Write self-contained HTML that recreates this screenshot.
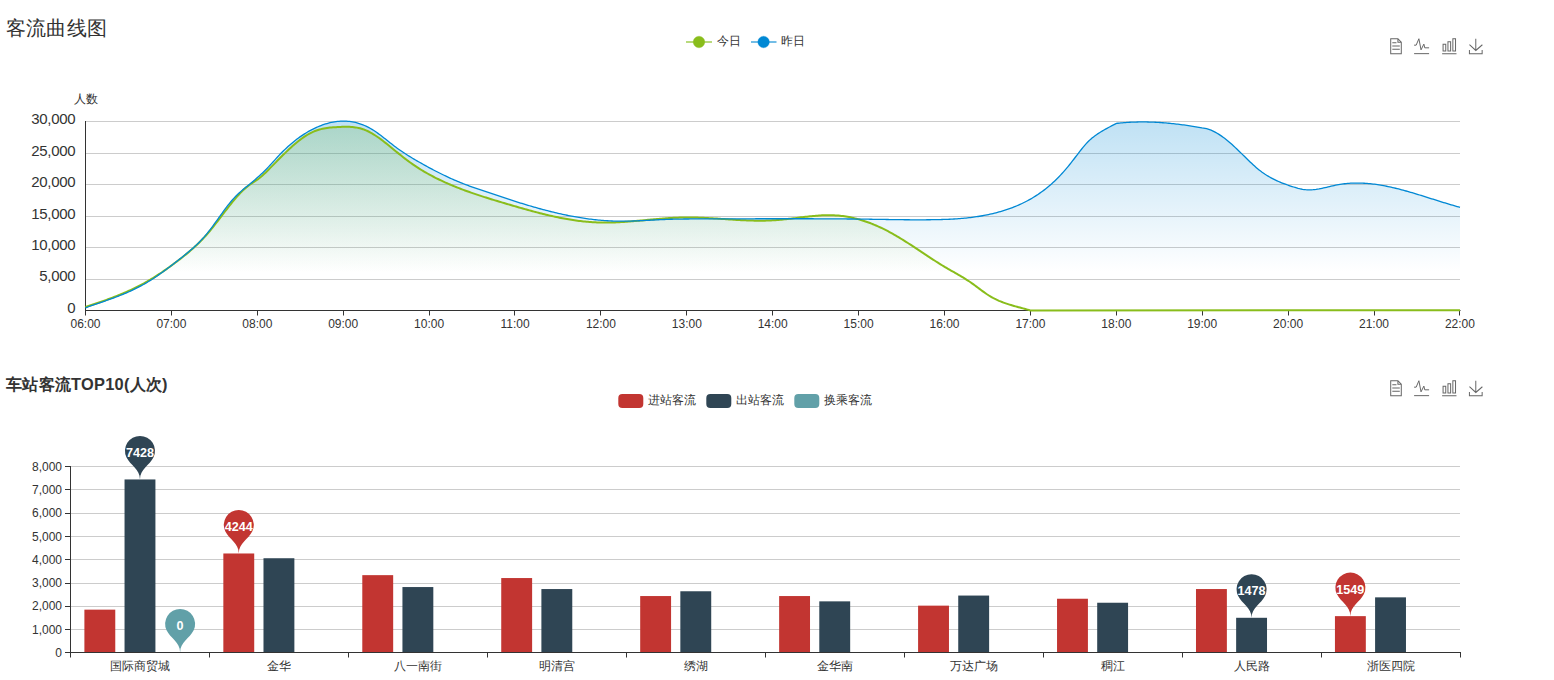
<!DOCTYPE html>
<html><head><meta charset="utf-8"><style>
html,body{margin:0;padding:0;background:#fff;width:1554px;height:680px;overflow:hidden}
svg{display:block;font-family:"Liberation Sans",sans-serif}
</style></head><body>
<svg width="1554" height="680" viewBox="0 0 1554 680">
<text x="5.6" y="35" font-size="20" letter-spacing="0.45" fill="#333">客流曲线图</text>
<line x1="686" y1="42" x2="712" y2="42" stroke="#b9da7d" stroke-width="2"/>
<circle cx="699" cy="42" r="5.8" fill="rgb(137,189,27)" stroke="rgba(137,189,27,0.3)" stroke-width="1"/>
<text x="716.8" y="44.6" font-size="12" fill="#333">今日</text>
<line x1="751" y1="42" x2="776.5" y2="42" stroke="#73bde6" stroke-width="2"/>
<circle cx="763.6" cy="42" r="5.8" fill="rgb(0,136,212)" stroke="rgba(0,136,212,0.3)" stroke-width="1"/>
<text x="781" y="44.6" font-size="12" fill="#333">昨日</text>
<line x1="85.5" y1="279.5" x2="1460" y2="279.5" stroke="#ccc" stroke-width="1"/>
<line x1="85.5" y1="247.5" x2="1460" y2="247.5" stroke="#ccc" stroke-width="1"/>
<line x1="85.5" y1="216.5" x2="1460" y2="216.5" stroke="#ccc" stroke-width="1"/>
<line x1="85.5" y1="184.5" x2="1460" y2="184.5" stroke="#ccc" stroke-width="1"/>
<line x1="85.5" y1="153.5" x2="1460" y2="153.5" stroke="#ccc" stroke-width="1"/>
<line x1="85.5" y1="121.5" x2="1460" y2="121.5" stroke="#ccc" stroke-width="1"/>
<text x="75.3" y="312.8" font-size="15" letter-spacing="-0.3" fill="#333" text-anchor="end">0</text>
<text x="75.3" y="281.4" font-size="15" letter-spacing="-0.3" fill="#333" text-anchor="end">5,000</text>
<text x="75.3" y="249.9" font-size="15" letter-spacing="-0.3" fill="#333" text-anchor="end">10,000</text>
<text x="75.3" y="218.5" font-size="15" letter-spacing="-0.3" fill="#333" text-anchor="end">15,000</text>
<text x="75.3" y="187.1" font-size="15" letter-spacing="-0.3" fill="#333" text-anchor="end">20,000</text>
<text x="75.3" y="155.6" font-size="15" letter-spacing="-0.3" fill="#333" text-anchor="end">25,000</text>
<text x="75.3" y="124.2" font-size="15" letter-spacing="-0.3" fill="#333" text-anchor="end">30,000</text>
<text x="85.5" y="103" font-size="12" fill="#333" text-anchor="middle">人数</text>
<defs><linearGradient id="gb" gradientUnits="userSpaceOnUse" x1="0" y1="121.1" x2="0" y2="310.0"><stop offset="0" stop-color="rgb(0,136,212)" stop-opacity="0.25"/><stop offset="0.8" stop-color="rgb(0,136,212)" stop-opacity="0"/></linearGradient><linearGradient id="gg" gradientUnits="userSpaceOnUse" x1="0" y1="126.8" x2="0" y2="310.0"><stop offset="0" stop-color="rgb(137,189,27)" stop-opacity="0.25"/><stop offset="0.8" stop-color="rgb(137,189,27)" stop-opacity="0"/></linearGradient></defs>
<path d="M85.50,307.04 L87.00,306.54 L88.50,306.04 L90.00,305.54 L91.50,305.03 L93.00,304.52 L94.50,304.01 L96.00,303.50 L97.50,302.99 L99.00,302.47 L100.50,301.95 L102.00,301.43 L103.50,300.90 L105.00,300.36 L106.50,299.82 L108.00,299.27 L109.50,298.72 L111.00,298.16 L112.50,297.59 L114.00,297.02 L115.50,296.44 L117.00,295.85 L118.50,295.25 L120.00,294.64 L121.50,294.02 L123.00,293.39 L124.50,292.75 L126.00,292.10 L127.50,291.44 L129.00,290.77 L130.50,290.08 L132.00,289.38 L133.50,288.67 L135.00,287.95 L136.50,287.21 L138.00,286.45 L139.50,285.69 L141.00,284.90 L142.50,284.10 L144.00,283.29 L145.50,282.46 L147.00,281.61 L148.50,280.74 L150.00,279.86 L151.50,278.96 L153.00,278.04 L154.50,277.11 L156.00,276.16 L157.50,275.19 L159.00,274.21 L160.50,273.22 L162.00,272.21 L163.50,271.19 L165.00,270.15 L166.50,269.10 L168.00,268.04 L169.50,266.96 L171.00,265.87 L172.50,264.77 L174.00,263.66 L175.50,262.54 L177.00,261.41 L178.50,260.26 L180.00,259.11 L181.50,257.94 L183.00,256.76 L184.50,255.57 L186.00,254.36 L187.50,253.13 L189.00,251.87 L190.50,250.59 L192.00,249.29 L193.50,247.96 L195.00,246.59 L196.50,245.19 L198.00,243.76 L199.50,242.29 L201.00,240.78 L202.50,239.22 L204.00,237.63 L205.50,235.98 L207.00,234.29 L208.50,232.55 L210.00,230.76 L211.50,228.93 L213.00,227.06 L214.50,225.16 L216.00,223.24 L217.50,221.30 L219.00,219.34 L220.50,217.38 L222.00,215.41 L223.50,213.44 L225.00,211.48 L226.50,209.53 L228.00,207.59 L229.50,205.68 L231.00,203.80 L232.50,201.95 L234.00,200.14 L235.50,198.37 L237.00,196.65 L238.50,194.98 L240.00,193.38 L241.50,191.83 L243.00,190.36 L244.50,188.96 L246.00,187.65 L247.50,186.42 L249.00,185.27 L250.50,184.20 L252.00,183.18 L253.50,182.18 L255.00,181.19 L256.50,180.17 L258.00,179.11 L259.50,177.98 L261.00,176.77 L262.50,175.47 L264.00,174.09 L265.50,172.66 L267.00,171.19 L268.50,169.69 L270.00,168.17 L271.50,166.65 L273.00,165.13 L274.50,163.60 L276.00,162.08 L277.50,160.56 L279.00,159.04 L280.50,157.53 L282.00,156.04 L283.50,154.56 L285.00,153.09 L286.50,151.64 L288.00,150.22 L289.50,148.82 L291.00,147.44 L292.50,146.09 L294.00,144.78 L295.50,143.49 L297.00,142.25 L298.50,141.04 L300.00,139.87 L301.50,138.75 L303.00,137.68 L304.50,136.65 L306.00,135.67 L307.50,134.75 L309.00,133.89 L310.50,133.08 L312.00,132.34 L313.50,131.65 L315.00,131.04 L316.50,130.48 L318.00,129.98 L319.50,129.54 L321.00,129.14 L322.50,128.79 L324.00,128.49 L325.50,128.22 L327.00,127.99 L328.50,127.79 L330.00,127.61 L331.50,127.47 L333.00,127.34 L334.50,127.24 L336.00,127.14 L337.50,127.06 L339.00,126.99 L340.50,126.92 L342.00,126.86 L343.50,126.81 L345.00,126.78 L346.50,126.78 L348.00,126.79 L349.50,126.84 L351.00,126.92 L352.50,127.03 L354.00,127.19 L355.50,127.39 L357.00,127.63 L358.50,127.93 L360.00,128.29 L361.50,128.70 L363.00,129.18 L364.50,129.72 L366.00,130.34 L367.50,131.01 L369.00,131.75 L370.50,132.54 L372.00,133.39 L373.50,134.28 L375.00,135.22 L376.50,136.21 L378.00,137.24 L379.50,138.30 L381.00,139.39 L382.50,140.52 L384.00,141.67 L385.50,142.84 L387.00,144.03 L388.50,145.24 L390.00,146.46 L391.50,147.69 L393.00,148.92 L394.50,150.16 L396.00,151.40 L397.50,152.63 L399.00,153.86 L400.50,155.07 L402.00,156.28 L403.50,157.46 L405.00,158.63 L406.50,159.77 L408.00,160.89 L409.50,161.99 L411.00,163.06 L412.50,164.11 L414.00,165.14 L415.50,166.15 L417.00,167.14 L418.50,168.10 L420.00,169.05 L421.50,169.98 L423.00,170.89 L424.50,171.78 L426.00,172.65 L427.50,173.50 L429.00,174.34 L430.50,175.16 L432.00,175.96 L433.50,176.75 L435.00,177.52 L436.50,178.28 L438.00,179.02 L439.50,179.75 L441.00,180.47 L442.50,181.17 L444.00,181.86 L445.50,182.54 L447.00,183.20 L448.50,183.86 L450.00,184.50 L451.50,185.14 L453.00,185.76 L454.50,186.38 L456.00,186.98 L457.50,187.58 L459.00,188.17 L460.50,188.75 L462.00,189.32 L463.50,189.88 L465.00,190.44 L466.50,190.99 L468.00,191.53 L469.50,192.06 L471.00,192.59 L472.50,193.11 L474.00,193.63 L475.50,194.14 L477.00,194.64 L478.50,195.14 L480.00,195.64 L481.50,196.12 L483.00,196.61 L484.50,197.09 L486.00,197.56 L487.50,198.04 L489.00,198.50 L490.50,198.97 L492.00,199.43 L493.50,199.89 L495.00,200.35 L496.50,200.80 L498.00,201.25 L499.50,201.70 L501.00,202.15 L502.50,202.60 L504.00,203.04 L505.50,203.49 L507.00,203.93 L508.50,204.38 L510.00,204.82 L511.50,205.26 L513.00,205.70 L514.50,206.14 L516.00,206.58 L517.50,207.01 L519.00,207.44 L520.50,207.88 L522.00,208.30 L523.50,208.73 L525.00,209.15 L526.50,209.57 L528.00,209.99 L529.50,210.40 L531.00,210.81 L532.50,211.21 L534.00,211.61 L535.50,212.01 L537.00,212.40 L538.50,212.79 L540.00,213.18 L541.50,213.56 L543.00,213.93 L544.50,214.30 L546.00,214.66 L547.50,215.02 L549.00,215.37 L550.50,215.71 L552.00,216.05 L553.50,216.39 L555.00,216.71 L556.50,217.03 L558.00,217.35 L559.50,217.65 L561.00,217.95 L562.50,218.24 L564.00,218.52 L565.50,218.80 L567.00,219.07 L568.50,219.33 L570.00,219.58 L571.50,219.82 L573.00,220.05 L574.50,220.28 L576.00,220.49 L577.50,220.70 L579.00,220.89 L580.50,221.08 L582.00,221.26 L583.50,221.42 L585.00,221.58 L586.50,221.73 L588.00,221.86 L589.50,221.99 L591.00,222.10 L592.50,222.20 L594.00,222.29 L595.50,222.37 L597.00,222.44 L598.50,222.49 L600.00,222.54 L601.50,222.57 L603.00,222.59 L604.50,222.60 L606.00,222.60 L607.50,222.59 L609.00,222.57 L610.50,222.54 L612.00,222.50 L613.50,222.46 L615.00,222.40 L616.50,222.34 L618.00,222.27 L619.50,222.19 L621.00,222.11 L622.50,222.02 L624.00,221.92 L625.50,221.82 L627.00,221.71 L628.50,221.60 L630.00,221.48 L631.50,221.36 L633.00,221.24 L634.50,221.11 L636.00,220.98 L637.50,220.85 L639.00,220.71 L640.50,220.57 L642.00,220.44 L643.50,220.30 L645.00,220.16 L646.50,220.02 L648.00,219.87 L649.50,219.73 L651.00,219.59 L652.50,219.46 L654.00,219.32 L655.50,219.18 L657.00,219.05 L658.50,218.92 L660.00,218.80 L661.50,218.67 L663.00,218.55 L664.50,218.44 L666.00,218.33 L667.50,218.22 L669.00,218.12 L670.50,218.02 L672.00,217.94 L673.50,217.85 L675.00,217.78 L676.50,217.71 L678.00,217.65 L679.50,217.59 L681.00,217.55 L682.50,217.51 L684.00,217.49 L685.50,217.47 L687.00,217.46 L688.50,217.46 L690.00,217.47 L691.50,217.48 L693.00,217.51 L694.50,217.54 L696.00,217.57 L697.50,217.62 L699.00,217.67 L700.50,217.72 L702.00,217.79 L703.50,217.85 L705.00,217.92 L706.50,218.00 L708.00,218.08 L709.50,218.16 L711.00,218.25 L712.50,218.34 L714.00,218.43 L715.50,218.52 L717.00,218.62 L718.50,218.72 L720.00,218.82 L721.50,218.92 L723.00,219.02 L724.50,219.12 L726.00,219.22 L727.50,219.32 L729.00,219.42 L730.50,219.52 L732.00,219.61 L733.50,219.71 L735.00,219.80 L736.50,219.89 L738.00,219.98 L739.50,220.06 L741.00,220.14 L742.50,220.22 L744.00,220.29 L745.50,220.36 L747.00,220.42 L748.50,220.48 L750.00,220.53 L751.50,220.57 L753.00,220.61 L754.50,220.64 L756.00,220.67 L757.50,220.68 L759.00,220.69 L760.50,220.69 L762.00,220.69 L763.50,220.67 L765.00,220.65 L766.50,220.61 L768.00,220.57 L769.50,220.51 L771.00,220.45 L772.50,220.37 L774.00,220.28 L775.50,220.18 L777.00,220.07 L778.50,219.95 L780.00,219.81 L781.50,219.67 L783.00,219.52 L784.50,219.37 L786.00,219.20 L787.50,219.03 L789.00,218.85 L790.50,218.68 L792.00,218.49 L793.50,218.31 L795.00,218.12 L796.50,217.93 L798.00,217.74 L799.50,217.55 L801.00,217.36 L802.50,217.18 L804.00,217.00 L805.50,216.82 L807.00,216.65 L808.50,216.48 L810.00,216.32 L811.50,216.17 L813.00,216.02 L814.50,215.89 L816.00,215.76 L817.50,215.64 L819.00,215.54 L820.50,215.45 L822.00,215.37 L823.50,215.30 L825.00,215.25 L826.50,215.22 L828.00,215.20 L829.50,215.20 L831.00,215.21 L832.50,215.25 L834.00,215.30 L835.50,215.38 L837.00,215.48 L838.50,215.60 L840.00,215.74 L841.50,215.90 L843.00,216.09 L844.50,216.30 L846.00,216.53 L847.50,216.78 L849.00,217.05 L850.50,217.34 L852.00,217.66 L853.50,218.00 L855.00,218.36 L856.50,218.73 L858.00,219.13 L859.50,219.55 L861.00,219.99 L862.50,220.45 L864.00,220.93 L865.50,221.43 L867.00,221.95 L868.50,222.49 L870.00,223.05 L871.50,223.63 L873.00,224.23 L874.50,224.84 L876.00,225.48 L877.50,226.13 L879.00,226.81 L880.50,227.50 L882.00,228.21 L883.50,228.93 L885.00,229.68 L886.50,230.44 L888.00,231.22 L889.50,232.02 L891.00,232.84 L892.50,233.67 L894.00,234.52 L895.50,235.39 L897.00,236.27 L898.50,237.16 L900.00,238.07 L901.50,238.98 L903.00,239.92 L904.50,240.86 L906.00,241.81 L907.50,242.76 L909.00,243.73 L910.50,244.70 L912.00,245.68 L913.50,246.67 L915.00,247.66 L916.50,248.65 L918.00,249.65 L919.50,250.64 L921.00,251.64 L922.50,252.64 L924.00,253.64 L925.50,254.63 L927.00,255.63 L928.50,256.62 L930.00,257.60 L931.50,258.58 L933.00,259.56 L934.50,260.52 L936.00,261.48 L937.50,262.44 L939.00,263.38 L940.50,264.31 L942.00,265.23 L943.50,266.14 L945.00,267.03 L946.50,267.92 L948.00,268.79 L949.50,269.65 L951.00,270.51 L952.50,271.36 L954.00,272.21 L955.50,273.07 L957.00,273.93 L958.50,274.79 L960.00,275.67 L961.50,276.56 L963.00,277.46 L964.50,278.38 L966.00,279.32 L967.50,280.29 L969.00,281.27 L970.50,282.29 L972.00,283.34 L973.50,284.41 L975.00,285.51 L976.50,286.63 L978.00,287.75 L979.50,288.87 L981.00,289.99 L982.50,291.09 L984.00,292.18 L985.50,293.23 L987.00,294.26 L988.50,295.24 L990.00,296.17 L991.50,297.05 L993.00,297.89 L994.50,298.68 L996.00,299.42 L997.50,300.13 L999.00,300.80 L1000.50,301.43 L1002.00,302.03 L1003.50,302.60 L1005.00,303.14 L1006.50,303.66 L1008.00,304.15 L1009.50,304.62 L1011.00,305.08 L1012.50,305.52 L1014.00,305.94 L1015.50,306.36 L1017.00,306.77 L1018.50,307.17 L1020.00,307.57 L1021.50,307.97 L1023.00,308.37 L1024.50,308.77 L1026.00,309.18 L1027.50,309.60 L1029.00,310.03 L1030.20,310.39 L1460.00,310.20 L1460.00,310.00 L85.50,310.00 Z" fill="url(#gg)"/>
<path d="M85.50,307.80 L87.00,307.27 L88.50,306.74 L90.00,306.21 L91.50,305.69 L93.00,305.17 L94.50,304.66 L96.00,304.14 L97.50,303.63 L99.00,303.11 L100.50,302.60 L102.00,302.08 L103.50,301.56 L105.00,301.04 L106.50,300.51 L108.00,299.98 L109.50,299.45 L111.00,298.91 L112.50,298.36 L114.00,297.81 L115.50,297.25 L117.00,296.68 L118.50,296.10 L120.00,295.51 L121.50,294.91 L123.00,294.30 L124.50,293.68 L126.00,293.05 L127.50,292.40 L129.00,291.74 L130.50,291.06 L132.00,290.37 L133.50,289.66 L135.00,288.94 L136.50,288.20 L138.00,287.44 L139.50,286.66 L141.00,285.86 L142.50,285.04 L144.00,284.20 L145.50,283.34 L147.00,282.46 L148.50,281.56 L150.00,280.63 L151.50,279.68 L153.00,278.71 L154.50,277.72 L156.00,276.71 L157.50,275.69 L159.00,274.64 L160.50,273.59 L162.00,272.51 L163.50,271.43 L165.00,270.33 L166.50,269.22 L168.00,268.10 L169.50,266.97 L171.00,265.83 L172.50,264.68 L174.00,263.52 L175.50,262.36 L177.00,261.20 L178.50,260.03 L180.00,258.86 L181.50,257.68 L183.00,256.49 L184.50,255.30 L186.00,254.09 L187.50,252.86 L189.00,251.61 L190.50,250.33 L192.00,249.03 L193.50,247.69 L195.00,246.31 L196.50,244.90 L198.00,243.44 L199.50,241.93 L201.00,240.38 L202.50,238.76 L204.00,237.10 L205.50,235.36 L207.00,233.57 L208.50,231.70 L210.00,229.78 L211.50,227.80 L213.00,225.78 L214.50,223.73 L216.00,221.65 L217.50,219.56 L219.00,217.46 L220.50,215.36 L222.00,213.28 L223.50,211.21 L225.00,209.17 L226.50,207.18 L228.00,205.22 L229.50,203.33 L231.00,201.50 L232.50,199.74 L234.00,198.07 L235.50,196.48 L237.00,194.98 L238.50,193.55 L240.00,192.18 L241.50,190.87 L243.00,189.59 L244.50,188.34 L246.00,187.11 L247.50,185.88 L249.00,184.66 L250.50,183.42 L252.00,182.18 L253.50,180.92 L255.00,179.65 L256.50,178.35 L258.00,177.03 L259.50,175.69 L261.00,174.32 L262.50,172.91 L264.00,171.47 L265.50,169.99 L267.00,168.47 L268.50,166.91 L270.00,165.30 L271.50,163.65 L273.00,161.98 L274.50,160.31 L276.00,158.64 L277.50,157.00 L279.00,155.39 L280.50,153.82 L282.00,152.29 L283.50,150.80 L285.00,149.35 L286.50,147.94 L288.00,146.56 L289.50,145.22 L291.00,143.92 L292.50,142.66 L294.00,141.43 L295.50,140.24 L297.00,139.09 L298.50,137.98 L300.00,136.90 L301.50,135.86 L303.00,134.85 L304.50,133.88 L306.00,132.95 L307.50,132.05 L309.00,131.18 L310.50,130.36 L312.00,129.56 L313.50,128.81 L315.00,128.08 L316.50,127.39 L318.00,126.74 L319.50,126.12 L321.00,125.53 L322.50,124.98 L324.00,124.46 L325.50,123.98 L327.00,123.53 L328.50,123.12 L330.00,122.74 L331.50,122.41 L333.00,122.10 L334.50,121.84 L336.00,121.62 L337.50,121.43 L339.00,121.28 L340.50,121.18 L342.00,121.12 L343.50,121.09 L345.00,121.11 L346.50,121.18 L348.00,121.28 L349.50,121.43 L351.00,121.63 L352.50,121.87 L354.00,122.15 L355.50,122.49 L357.00,122.86 L358.50,123.29 L360.00,123.77 L361.50,124.29 L363.00,124.86 L364.50,125.48 L366.00,126.16 L367.50,126.88 L369.00,127.66 L370.50,128.48 L372.00,129.37 L373.50,130.30 L375.00,131.28 L376.50,132.31 L378.00,133.37 L379.50,134.47 L381.00,135.59 L382.50,136.74 L384.00,137.91 L385.50,139.09 L387.00,140.28 L388.50,141.48 L390.00,142.67 L391.50,143.86 L393.00,145.03 L394.50,146.19 L396.00,147.32 L397.50,148.43 L399.00,149.51 L400.50,150.56 L402.00,151.58 L403.50,152.58 L405.00,153.56 L406.50,154.52 L408.00,155.46 L409.50,156.38 L411.00,157.29 L412.50,158.19 L414.00,159.08 L415.50,159.96 L417.00,160.83 L418.50,161.70 L420.00,162.56 L421.50,163.41 L423.00,164.26 L424.50,165.10 L426.00,165.93 L427.50,166.75 L429.00,167.56 L430.50,168.37 L432.00,169.17 L433.50,169.96 L435.00,170.74 L436.50,171.51 L438.00,172.28 L439.50,173.03 L441.00,173.78 L442.50,174.51 L444.00,175.24 L445.50,175.96 L447.00,176.66 L448.50,177.36 L450.00,178.05 L451.50,178.72 L453.00,179.39 L454.50,180.05 L456.00,180.69 L457.50,181.33 L459.00,181.95 L460.50,182.56 L462.00,183.17 L463.50,183.76 L465.00,184.34 L466.50,184.91 L468.00,185.46 L469.50,186.02 L471.00,186.56 L472.50,187.09 L474.00,187.62 L475.50,188.14 L477.00,188.66 L478.50,189.17 L480.00,189.68 L481.50,190.18 L483.00,190.69 L484.50,191.19 L486.00,191.68 L487.50,192.18 L489.00,192.68 L490.50,193.17 L492.00,193.67 L493.50,194.17 L495.00,194.67 L496.50,195.17 L498.00,195.67 L499.50,196.17 L501.00,196.67 L502.50,197.17 L504.00,197.67 L505.50,198.16 L507.00,198.66 L508.50,199.15 L510.00,199.64 L511.50,200.13 L513.00,200.62 L514.50,201.10 L516.00,201.58 L517.50,202.06 L519.00,202.53 L520.50,203.01 L522.00,203.47 L523.50,203.94 L525.00,204.40 L526.50,204.85 L528.00,205.30 L529.50,205.75 L531.00,206.19 L532.50,206.63 L534.00,207.06 L535.50,207.49 L537.00,207.92 L538.50,208.33 L540.00,208.75 L541.50,209.16 L543.00,209.56 L544.50,209.96 L546.00,210.35 L547.50,210.74 L549.00,211.12 L550.50,211.50 L552.00,211.87 L553.50,212.24 L555.00,212.60 L556.50,212.95 L558.00,213.30 L559.50,213.64 L561.00,213.97 L562.50,214.30 L564.00,214.63 L565.50,214.94 L567.00,215.25 L568.50,215.55 L570.00,215.85 L571.50,216.14 L573.00,216.42 L574.50,216.69 L576.00,216.96 L577.50,217.22 L579.00,217.47 L580.50,217.72 L582.00,217.95 L583.50,218.18 L585.00,218.41 L586.50,218.62 L588.00,218.83 L589.50,219.03 L591.00,219.22 L592.50,219.40 L594.00,219.57 L595.50,219.74 L597.00,219.89 L598.50,220.04 L600.00,220.18 L601.50,220.31 L603.00,220.44 L604.50,220.55 L606.00,220.65 L607.50,220.75 L609.00,220.83 L610.50,220.91 L612.00,220.98 L613.50,221.03 L615.00,221.08 L616.50,221.12 L618.00,221.15 L619.50,221.17 L621.00,221.18 L622.50,221.18 L624.00,221.17 L625.50,221.16 L627.00,221.13 L628.50,221.10 L630.00,221.07 L631.50,221.03 L633.00,220.98 L634.50,220.93 L636.00,220.87 L637.50,220.81 L639.00,220.75 L640.50,220.68 L642.00,220.61 L643.50,220.54 L645.00,220.46 L646.50,220.38 L648.00,220.30 L649.50,220.23 L651.00,220.15 L652.50,220.07 L654.00,219.99 L655.50,219.91 L657.00,219.83 L658.50,219.76 L660.00,219.68 L661.50,219.61 L663.00,219.55 L664.50,219.48 L666.00,219.42 L667.50,219.37 L669.00,219.32 L670.50,219.27 L672.00,219.23 L673.50,219.19 L675.00,219.16 L676.50,219.13 L678.00,219.10 L679.50,219.07 L681.00,219.05 L682.50,219.03 L684.00,219.02 L685.50,219.00 L687.00,218.99 L688.50,218.98 L690.00,218.97 L691.50,218.96 L693.00,218.96 L694.50,218.95 L696.00,218.94 L697.50,218.94 L699.00,218.94 L700.50,218.93 L702.00,218.93 L703.50,218.92 L705.00,218.92 L706.50,218.92 L708.00,218.91 L709.50,218.91 L711.00,218.90 L712.50,218.90 L714.00,218.89 L715.50,218.89 L717.00,218.89 L718.50,218.88 L720.00,218.88 L721.50,218.87 L723.00,218.87 L724.50,218.86 L726.00,218.86 L727.50,218.85 L729.00,218.85 L730.50,218.84 L732.00,218.84 L733.50,218.84 L735.00,218.83 L736.50,218.83 L738.00,218.82 L739.50,218.82 L741.00,218.81 L742.50,218.81 L744.00,218.81 L745.50,218.80 L747.00,218.80 L748.50,218.79 L750.00,218.79 L751.50,218.79 L753.00,218.78 L754.50,218.78 L756.00,218.77 L757.50,218.77 L759.00,218.77 L760.50,218.77 L762.00,218.76 L763.50,218.76 L765.00,218.76 L766.50,218.75 L768.00,218.75 L769.50,218.75 L771.00,218.75 L772.50,218.74 L774.00,218.74 L775.50,218.74 L777.00,218.74 L778.50,218.74 L780.00,218.74 L781.50,218.74 L783.00,218.74 L784.50,218.74 L786.00,218.74 L787.50,218.74 L789.00,218.74 L790.50,218.74 L792.00,218.74 L793.50,218.74 L795.00,218.74 L796.50,218.74 L798.00,218.74 L799.50,218.74 L801.00,218.75 L802.50,218.75 L804.00,218.75 L805.50,218.75 L807.00,218.76 L808.50,218.76 L810.00,218.77 L811.50,218.77 L813.00,218.77 L814.50,218.78 L816.00,218.78 L817.50,218.79 L819.00,218.80 L820.50,218.80 L822.00,218.81 L823.50,218.82 L825.00,218.82 L826.50,218.83 L828.00,218.84 L829.50,218.85 L831.00,218.86 L832.50,218.86 L834.00,218.87 L835.50,218.88 L837.00,218.90 L838.50,218.91 L840.00,218.92 L841.50,218.93 L843.00,218.94 L844.50,218.95 L846.00,218.97 L847.50,218.98 L849.00,218.99 L850.50,219.01 L852.00,219.02 L853.50,219.04 L855.00,219.06 L856.50,219.07 L858.00,219.09 L859.50,219.11 L861.00,219.12 L862.50,219.14 L864.00,219.16 L865.50,219.18 L867.00,219.20 L868.50,219.22 L870.00,219.24 L871.50,219.26 L873.00,219.29 L874.50,219.31 L876.00,219.33 L877.50,219.36 L879.00,219.38 L880.50,219.40 L882.00,219.43 L883.50,219.45 L885.00,219.47 L886.50,219.50 L888.00,219.52 L889.50,219.54 L891.00,219.56 L892.50,219.59 L894.00,219.61 L895.50,219.63 L897.00,219.65 L898.50,219.67 L900.00,219.68 L901.50,219.70 L903.00,219.72 L904.50,219.73 L906.00,219.75 L907.50,219.76 L909.00,219.77 L910.50,219.78 L912.00,219.79 L913.50,219.79 L915.00,219.80 L916.50,219.80 L918.00,219.80 L919.50,219.80 L921.00,219.80 L922.50,219.80 L924.00,219.79 L925.50,219.78 L927.00,219.77 L928.50,219.76 L930.00,219.74 L931.50,219.72 L933.00,219.70 L934.50,219.68 L936.00,219.65 L937.50,219.62 L939.00,219.59 L940.50,219.55 L942.00,219.51 L943.50,219.46 L945.00,219.41 L946.50,219.35 L948.00,219.29 L949.50,219.23 L951.00,219.15 L952.50,219.07 L954.00,218.99 L955.50,218.89 L957.00,218.80 L958.50,218.69 L960.00,218.57 L961.50,218.45 L963.00,218.32 L964.50,218.18 L966.00,218.03 L967.50,217.88 L969.00,217.71 L970.50,217.54 L972.00,217.35 L973.50,217.15 L975.00,216.95 L976.50,216.73 L978.00,216.50 L979.50,216.26 L981.00,216.01 L982.50,215.75 L984.00,215.47 L985.50,215.18 L987.00,214.88 L988.50,214.57 L990.00,214.24 L991.50,213.90 L993.00,213.55 L994.50,213.18 L996.00,212.79 L997.50,212.39 L999.00,211.98 L1000.50,211.55 L1002.00,211.11 L1003.50,210.65 L1005.00,210.17 L1006.50,209.68 L1008.00,209.17 L1009.50,208.64 L1011.00,208.10 L1012.50,207.53 L1014.00,206.95 L1015.50,206.35 L1017.00,205.73 L1018.50,205.09 L1020.00,204.42 L1021.50,203.73 L1023.00,203.02 L1024.50,202.28 L1026.00,201.52 L1027.50,200.73 L1029.00,199.92 L1030.50,199.07 L1032.00,198.20 L1033.50,197.30 L1035.00,196.37 L1036.50,195.41 L1038.00,194.42 L1039.50,193.39 L1041.00,192.33 L1042.50,191.23 L1044.00,190.11 L1045.50,188.94 L1047.00,187.74 L1048.50,186.50 L1050.00,185.22 L1051.50,183.91 L1053.00,182.55 L1054.50,181.15 L1056.00,179.71 L1057.50,178.23 L1059.00,176.71 L1060.50,175.14 L1062.00,173.53 L1063.50,171.87 L1065.00,170.17 L1066.50,168.41 L1068.00,166.61 L1069.50,164.77 L1071.00,162.87 L1072.50,160.94 L1074.00,158.98 L1075.50,157.01 L1077.00,155.04 L1078.50,153.08 L1080.00,151.15 L1081.50,149.25 L1083.00,147.41 L1084.50,145.63 L1086.00,143.93 L1087.50,142.32 L1089.00,140.81 L1090.50,139.40 L1092.00,138.10 L1093.50,136.89 L1095.00,135.75 L1096.50,134.68 L1098.00,133.66 L1099.50,132.69 L1101.00,131.75 L1102.50,130.85 L1104.00,129.99 L1105.50,129.14 L1107.00,128.32 L1108.50,127.52 L1110.00,126.73 L1111.50,125.95 L1113.00,125.17 L1114.50,124.39 L1116.00,123.61 L1116.40,123.40 L1117.90,123.23 L1119.40,123.08 L1120.90,122.93 L1122.40,122.80 L1123.90,122.67 L1125.40,122.56 L1126.90,122.45 L1128.40,122.36 L1129.90,122.27 L1131.40,122.20 L1132.90,122.13 L1134.40,122.08 L1135.90,122.03 L1137.40,122.00 L1138.90,121.97 L1140.40,121.95 L1141.90,121.94 L1143.40,121.95 L1144.90,121.96 L1146.40,121.97 L1147.90,122.00 L1149.40,122.04 L1150.90,122.08 L1152.40,122.13 L1153.90,122.19 L1155.40,122.26 L1156.90,122.34 L1158.40,122.43 L1159.90,122.52 L1161.40,122.62 L1162.90,122.73 L1164.40,122.84 L1165.90,122.97 L1167.40,123.10 L1168.90,123.23 L1170.40,123.38 L1171.90,123.53 L1173.40,123.69 L1174.90,123.85 L1176.40,124.03 L1177.90,124.21 L1179.40,124.39 L1180.90,124.58 L1182.40,124.78 L1183.90,124.98 L1185.40,125.19 L1186.90,125.41 L1188.40,125.63 L1189.90,125.86 L1191.40,126.09 L1192.90,126.33 L1194.40,126.57 L1195.90,126.82 L1197.40,127.07 L1198.90,127.33 L1200.40,127.60 L1201.90,127.86 L1202.10,127.90 L1203.60,128.07 L1205.10,128.33 L1206.60,128.67 L1208.10,129.10 L1209.60,129.60 L1211.10,130.18 L1212.60,130.83 L1214.10,131.56 L1215.60,132.35 L1217.10,133.20 L1218.60,134.12 L1220.10,135.09 L1221.60,136.12 L1223.10,137.20 L1224.60,138.33 L1226.10,139.51 L1227.60,140.73 L1229.10,141.99 L1230.60,143.28 L1232.10,144.61 L1233.60,145.97 L1235.10,147.36 L1236.60,148.78 L1238.10,150.21 L1239.60,151.66 L1241.10,153.13 L1242.60,154.60 L1244.10,156.08 L1245.60,157.55 L1247.10,159.02 L1248.60,160.48 L1250.10,161.91 L1251.60,163.33 L1253.10,164.72 L1254.60,166.07 L1256.10,167.39 L1257.60,168.66 L1259.10,169.89 L1260.60,171.07 L1262.10,172.19 L1263.60,173.25 L1265.10,174.27 L1266.60,175.24 L1268.10,176.16 L1269.60,177.04 L1271.10,177.88 L1272.60,178.68 L1274.10,179.44 L1275.60,180.17 L1277.10,180.86 L1278.60,181.53 L1280.10,182.17 L1281.60,182.78 L1283.10,183.36 L1284.60,183.93 L1286.10,184.48 L1287.60,185.01 L1289.10,185.53 L1290.60,186.03 L1292.10,186.52 L1293.60,187.00 L1295.10,187.46 L1296.60,187.90 L1298.10,188.31 L1299.60,188.68 L1301.10,189.01 L1302.60,189.29 L1304.10,189.53 L1305.60,189.71 L1307.10,189.82 L1308.60,189.88 L1310.10,189.88 L1311.60,189.82 L1313.10,189.72 L1314.60,189.57 L1316.10,189.38 L1317.60,189.15 L1319.10,188.90 L1320.60,188.61 L1322.10,188.30 L1323.60,187.98 L1325.10,187.64 L1326.60,187.29 L1328.10,186.93 L1329.60,186.57 L1331.10,186.22 L1332.60,185.87 L1334.10,185.53 L1335.60,185.21 L1337.10,184.90 L1338.60,184.62 L1340.10,184.37 L1341.60,184.14 L1343.10,183.93 L1344.60,183.74 L1346.10,183.58 L1347.60,183.44 L1349.10,183.32 L1350.60,183.22 L1352.10,183.14 L1353.60,183.09 L1355.10,183.05 L1356.60,183.03 L1358.10,183.04 L1359.60,183.06 L1361.10,183.10 L1362.60,183.16 L1364.10,183.23 L1365.60,183.33 L1367.10,183.44 L1368.60,183.56 L1370.10,183.71 L1371.60,183.86 L1373.10,184.04 L1374.60,184.23 L1376.10,184.43 L1377.60,184.65 L1379.10,184.88 L1380.60,185.13 L1382.10,185.39 L1383.60,185.66 L1385.10,185.94 L1386.60,186.24 L1388.10,186.55 L1389.60,186.87 L1391.10,187.20 L1392.60,187.54 L1394.10,187.89 L1395.60,188.25 L1397.10,188.62 L1398.60,188.99 L1400.10,189.38 L1401.60,189.77 L1403.10,190.18 L1404.60,190.59 L1406.10,191.00 L1407.60,191.43 L1409.10,191.85 L1410.60,192.29 L1412.10,192.73 L1413.60,193.17 L1415.10,193.62 L1416.60,194.08 L1418.10,194.54 L1419.60,195.00 L1421.10,195.46 L1422.60,195.93 L1424.10,196.40 L1425.60,196.87 L1427.10,197.34 L1428.60,197.81 L1430.10,198.29 L1431.60,198.76 L1433.10,199.24 L1434.60,199.71 L1436.10,200.18 L1437.60,200.66 L1439.10,201.13 L1440.60,201.60 L1442.10,202.06 L1443.60,202.53 L1445.10,202.99 L1446.60,203.44 L1448.10,203.89 L1449.60,204.34 L1451.10,204.79 L1452.60,205.22 L1454.10,205.66 L1455.60,206.08 L1457.10,206.51 L1458.60,206.92 L1460.00,207.30 L1460.00,310.00 L85.50,310.00 Z" fill="url(#gb)"/>
<line x1="85.5" y1="121" x2="85.5" y2="310.5" stroke="#333" stroke-width="1"/>
<line x1="85" y1="310.5" x2="1460.5" y2="310.5" stroke="#333" stroke-width="1"/>
<line x1="85.5" y1="310" x2="85.5" y2="315.5" stroke="#333" stroke-width="1"/>
<text x="85.5" y="328" font-size="12" fill="#333" text-anchor="middle">06:00</text>
<line x1="171.5" y1="310" x2="171.5" y2="315.5" stroke="#333" stroke-width="1"/>
<text x="171.4" y="328" font-size="12" fill="#333" text-anchor="middle">07:00</text>
<line x1="257.5" y1="310" x2="257.5" y2="315.5" stroke="#333" stroke-width="1"/>
<text x="257.3" y="328" font-size="12" fill="#333" text-anchor="middle">08:00</text>
<line x1="343.5" y1="310" x2="343.5" y2="315.5" stroke="#333" stroke-width="1"/>
<text x="343.2" y="328" font-size="12" fill="#333" text-anchor="middle">09:00</text>
<line x1="429.5" y1="310" x2="429.5" y2="315.5" stroke="#333" stroke-width="1"/>
<text x="429.1" y="328" font-size="12" fill="#333" text-anchor="middle">10:00</text>
<line x1="514.5" y1="310" x2="514.5" y2="315.5" stroke="#333" stroke-width="1"/>
<text x="515.0" y="328" font-size="12" fill="#333" text-anchor="middle">11:00</text>
<line x1="600.5" y1="310" x2="600.5" y2="315.5" stroke="#333" stroke-width="1"/>
<text x="600.9" y="328" font-size="12" fill="#333" text-anchor="middle">12:00</text>
<line x1="686.5" y1="310" x2="686.5" y2="315.5" stroke="#333" stroke-width="1"/>
<text x="686.8" y="328" font-size="12" fill="#333" text-anchor="middle">13:00</text>
<line x1="772.5" y1="310" x2="772.5" y2="315.5" stroke="#333" stroke-width="1"/>
<text x="772.7" y="328" font-size="12" fill="#333" text-anchor="middle">14:00</text>
<line x1="858.5" y1="310" x2="858.5" y2="315.5" stroke="#333" stroke-width="1"/>
<text x="858.6" y="328" font-size="12" fill="#333" text-anchor="middle">15:00</text>
<line x1="944.5" y1="310" x2="944.5" y2="315.5" stroke="#333" stroke-width="1"/>
<text x="944.5" y="328" font-size="12" fill="#333" text-anchor="middle">16:00</text>
<line x1="1030.5" y1="310" x2="1030.5" y2="315.5" stroke="#333" stroke-width="1"/>
<text x="1030.4" y="328" font-size="12" fill="#333" text-anchor="middle">17:00</text>
<line x1="1116.5" y1="310" x2="1116.5" y2="315.5" stroke="#333" stroke-width="1"/>
<text x="1116.3" y="328" font-size="12" fill="#333" text-anchor="middle">18:00</text>
<line x1="1202.5" y1="310" x2="1202.5" y2="315.5" stroke="#333" stroke-width="1"/>
<text x="1202.2" y="328" font-size="12" fill="#333" text-anchor="middle">19:00</text>
<line x1="1288.5" y1="310" x2="1288.5" y2="315.5" stroke="#333" stroke-width="1"/>
<text x="1288.1" y="328" font-size="12" fill="#333" text-anchor="middle">20:00</text>
<line x1="1374.5" y1="310" x2="1374.5" y2="315.5" stroke="#333" stroke-width="1"/>
<text x="1374.0" y="328" font-size="12" fill="#333" text-anchor="middle">21:00</text>
<line x1="1459.5" y1="310" x2="1459.5" y2="315.5" stroke="#333" stroke-width="1"/>
<text x="1459.9" y="328" font-size="12" fill="#333" text-anchor="middle">22:00</text>
<path d="M85.50,307.04 L87.00,306.54 L88.50,306.04 L90.00,305.54 L91.50,305.03 L93.00,304.52 L94.50,304.01 L96.00,303.50 L97.50,302.99 L99.00,302.47 L100.50,301.95 L102.00,301.43 L103.50,300.90 L105.00,300.36 L106.50,299.82 L108.00,299.27 L109.50,298.72 L111.00,298.16 L112.50,297.59 L114.00,297.02 L115.50,296.44 L117.00,295.85 L118.50,295.25 L120.00,294.64 L121.50,294.02 L123.00,293.39 L124.50,292.75 L126.00,292.10 L127.50,291.44 L129.00,290.77 L130.50,290.08 L132.00,289.38 L133.50,288.67 L135.00,287.95 L136.50,287.21 L138.00,286.45 L139.50,285.69 L141.00,284.90 L142.50,284.10 L144.00,283.29 L145.50,282.46 L147.00,281.61 L148.50,280.74 L150.00,279.86 L151.50,278.96 L153.00,278.04 L154.50,277.11 L156.00,276.16 L157.50,275.19 L159.00,274.21 L160.50,273.22 L162.00,272.21 L163.50,271.19 L165.00,270.15 L166.50,269.10 L168.00,268.04 L169.50,266.96 L171.00,265.87 L172.50,264.77 L174.00,263.66 L175.50,262.54 L177.00,261.41 L178.50,260.26 L180.00,259.11 L181.50,257.94 L183.00,256.76 L184.50,255.57 L186.00,254.36 L187.50,253.13 L189.00,251.87 L190.50,250.59 L192.00,249.29 L193.50,247.96 L195.00,246.59 L196.50,245.19 L198.00,243.76 L199.50,242.29 L201.00,240.78 L202.50,239.22 L204.00,237.63 L205.50,235.98 L207.00,234.29 L208.50,232.55 L210.00,230.76 L211.50,228.93 L213.00,227.06 L214.50,225.16 L216.00,223.24 L217.50,221.30 L219.00,219.34 L220.50,217.38 L222.00,215.41 L223.50,213.44 L225.00,211.48 L226.50,209.53 L228.00,207.59 L229.50,205.68 L231.00,203.80 L232.50,201.95 L234.00,200.14 L235.50,198.37 L237.00,196.65 L238.50,194.98 L240.00,193.38 L241.50,191.83 L243.00,190.36 L244.50,188.96 L246.00,187.65 L247.50,186.42 L249.00,185.27 L250.50,184.20 L252.00,183.18 L253.50,182.18 L255.00,181.19 L256.50,180.17 L258.00,179.11 L259.50,177.98 L261.00,176.77 L262.50,175.47 L264.00,174.09 L265.50,172.66 L267.00,171.19 L268.50,169.69 L270.00,168.17 L271.50,166.65 L273.00,165.13 L274.50,163.60 L276.00,162.08 L277.50,160.56 L279.00,159.04 L280.50,157.53 L282.00,156.04 L283.50,154.56 L285.00,153.09 L286.50,151.64 L288.00,150.22 L289.50,148.82 L291.00,147.44 L292.50,146.09 L294.00,144.78 L295.50,143.49 L297.00,142.25 L298.50,141.04 L300.00,139.87 L301.50,138.75 L303.00,137.68 L304.50,136.65 L306.00,135.67 L307.50,134.75 L309.00,133.89 L310.50,133.08 L312.00,132.34 L313.50,131.65 L315.00,131.04 L316.50,130.48 L318.00,129.98 L319.50,129.54 L321.00,129.14 L322.50,128.79 L324.00,128.49 L325.50,128.22 L327.00,127.99 L328.50,127.79 L330.00,127.61 L331.50,127.47 L333.00,127.34 L334.50,127.24 L336.00,127.14 L337.50,127.06 L339.00,126.99 L340.50,126.92 L342.00,126.86 L343.50,126.81 L345.00,126.78 L346.50,126.78 L348.00,126.79 L349.50,126.84 L351.00,126.92 L352.50,127.03 L354.00,127.19 L355.50,127.39 L357.00,127.63 L358.50,127.93 L360.00,128.29 L361.50,128.70 L363.00,129.18 L364.50,129.72 L366.00,130.34 L367.50,131.01 L369.00,131.75 L370.50,132.54 L372.00,133.39 L373.50,134.28 L375.00,135.22 L376.50,136.21 L378.00,137.24 L379.50,138.30 L381.00,139.39 L382.50,140.52 L384.00,141.67 L385.50,142.84 L387.00,144.03 L388.50,145.24 L390.00,146.46 L391.50,147.69 L393.00,148.92 L394.50,150.16 L396.00,151.40 L397.50,152.63 L399.00,153.86 L400.50,155.07 L402.00,156.28 L403.50,157.46 L405.00,158.63 L406.50,159.77 L408.00,160.89 L409.50,161.99 L411.00,163.06 L412.50,164.11 L414.00,165.14 L415.50,166.15 L417.00,167.14 L418.50,168.10 L420.00,169.05 L421.50,169.98 L423.00,170.89 L424.50,171.78 L426.00,172.65 L427.50,173.50 L429.00,174.34 L430.50,175.16 L432.00,175.96 L433.50,176.75 L435.00,177.52 L436.50,178.28 L438.00,179.02 L439.50,179.75 L441.00,180.47 L442.50,181.17 L444.00,181.86 L445.50,182.54 L447.00,183.20 L448.50,183.86 L450.00,184.50 L451.50,185.14 L453.00,185.76 L454.50,186.38 L456.00,186.98 L457.50,187.58 L459.00,188.17 L460.50,188.75 L462.00,189.32 L463.50,189.88 L465.00,190.44 L466.50,190.99 L468.00,191.53 L469.50,192.06 L471.00,192.59 L472.50,193.11 L474.00,193.63 L475.50,194.14 L477.00,194.64 L478.50,195.14 L480.00,195.64 L481.50,196.12 L483.00,196.61 L484.50,197.09 L486.00,197.56 L487.50,198.04 L489.00,198.50 L490.50,198.97 L492.00,199.43 L493.50,199.89 L495.00,200.35 L496.50,200.80 L498.00,201.25 L499.50,201.70 L501.00,202.15 L502.50,202.60 L504.00,203.04 L505.50,203.49 L507.00,203.93 L508.50,204.38 L510.00,204.82 L511.50,205.26 L513.00,205.70 L514.50,206.14 L516.00,206.58 L517.50,207.01 L519.00,207.44 L520.50,207.88 L522.00,208.30 L523.50,208.73 L525.00,209.15 L526.50,209.57 L528.00,209.99 L529.50,210.40 L531.00,210.81 L532.50,211.21 L534.00,211.61 L535.50,212.01 L537.00,212.40 L538.50,212.79 L540.00,213.18 L541.50,213.56 L543.00,213.93 L544.50,214.30 L546.00,214.66 L547.50,215.02 L549.00,215.37 L550.50,215.71 L552.00,216.05 L553.50,216.39 L555.00,216.71 L556.50,217.03 L558.00,217.35 L559.50,217.65 L561.00,217.95 L562.50,218.24 L564.00,218.52 L565.50,218.80 L567.00,219.07 L568.50,219.33 L570.00,219.58 L571.50,219.82 L573.00,220.05 L574.50,220.28 L576.00,220.49 L577.50,220.70 L579.00,220.89 L580.50,221.08 L582.00,221.26 L583.50,221.42 L585.00,221.58 L586.50,221.73 L588.00,221.86 L589.50,221.99 L591.00,222.10 L592.50,222.20 L594.00,222.29 L595.50,222.37 L597.00,222.44 L598.50,222.49 L600.00,222.54 L601.50,222.57 L603.00,222.59 L604.50,222.60 L606.00,222.60 L607.50,222.59 L609.00,222.57 L610.50,222.54 L612.00,222.50 L613.50,222.46 L615.00,222.40 L616.50,222.34 L618.00,222.27 L619.50,222.19 L621.00,222.11 L622.50,222.02 L624.00,221.92 L625.50,221.82 L627.00,221.71 L628.50,221.60 L630.00,221.48 L631.50,221.36 L633.00,221.24 L634.50,221.11 L636.00,220.98 L637.50,220.85 L639.00,220.71 L640.50,220.57 L642.00,220.44 L643.50,220.30 L645.00,220.16 L646.50,220.02 L648.00,219.87 L649.50,219.73 L651.00,219.59 L652.50,219.46 L654.00,219.32 L655.50,219.18 L657.00,219.05 L658.50,218.92 L660.00,218.80 L661.50,218.67 L663.00,218.55 L664.50,218.44 L666.00,218.33 L667.50,218.22 L669.00,218.12 L670.50,218.02 L672.00,217.94 L673.50,217.85 L675.00,217.78 L676.50,217.71 L678.00,217.65 L679.50,217.59 L681.00,217.55 L682.50,217.51 L684.00,217.49 L685.50,217.47 L687.00,217.46 L688.50,217.46 L690.00,217.47 L691.50,217.48 L693.00,217.51 L694.50,217.54 L696.00,217.57 L697.50,217.62 L699.00,217.67 L700.50,217.72 L702.00,217.79 L703.50,217.85 L705.00,217.92 L706.50,218.00 L708.00,218.08 L709.50,218.16 L711.00,218.25 L712.50,218.34 L714.00,218.43 L715.50,218.52 L717.00,218.62 L718.50,218.72 L720.00,218.82 L721.50,218.92 L723.00,219.02 L724.50,219.12 L726.00,219.22 L727.50,219.32 L729.00,219.42 L730.50,219.52 L732.00,219.61 L733.50,219.71 L735.00,219.80 L736.50,219.89 L738.00,219.98 L739.50,220.06 L741.00,220.14 L742.50,220.22 L744.00,220.29 L745.50,220.36 L747.00,220.42 L748.50,220.48 L750.00,220.53 L751.50,220.57 L753.00,220.61 L754.50,220.64 L756.00,220.67 L757.50,220.68 L759.00,220.69 L760.50,220.69 L762.00,220.69 L763.50,220.67 L765.00,220.65 L766.50,220.61 L768.00,220.57 L769.50,220.51 L771.00,220.45 L772.50,220.37 L774.00,220.28 L775.50,220.18 L777.00,220.07 L778.50,219.95 L780.00,219.81 L781.50,219.67 L783.00,219.52 L784.50,219.37 L786.00,219.20 L787.50,219.03 L789.00,218.85 L790.50,218.68 L792.00,218.49 L793.50,218.31 L795.00,218.12 L796.50,217.93 L798.00,217.74 L799.50,217.55 L801.00,217.36 L802.50,217.18 L804.00,217.00 L805.50,216.82 L807.00,216.65 L808.50,216.48 L810.00,216.32 L811.50,216.17 L813.00,216.02 L814.50,215.89 L816.00,215.76 L817.50,215.64 L819.00,215.54 L820.50,215.45 L822.00,215.37 L823.50,215.30 L825.00,215.25 L826.50,215.22 L828.00,215.20 L829.50,215.20 L831.00,215.21 L832.50,215.25 L834.00,215.30 L835.50,215.38 L837.00,215.48 L838.50,215.60 L840.00,215.74 L841.50,215.90 L843.00,216.09 L844.50,216.30 L846.00,216.53 L847.50,216.78 L849.00,217.05 L850.50,217.34 L852.00,217.66 L853.50,218.00 L855.00,218.36 L856.50,218.73 L858.00,219.13 L859.50,219.55 L861.00,219.99 L862.50,220.45 L864.00,220.93 L865.50,221.43 L867.00,221.95 L868.50,222.49 L870.00,223.05 L871.50,223.63 L873.00,224.23 L874.50,224.84 L876.00,225.48 L877.50,226.13 L879.00,226.81 L880.50,227.50 L882.00,228.21 L883.50,228.93 L885.00,229.68 L886.50,230.44 L888.00,231.22 L889.50,232.02 L891.00,232.84 L892.50,233.67 L894.00,234.52 L895.50,235.39 L897.00,236.27 L898.50,237.16 L900.00,238.07 L901.50,238.98 L903.00,239.92 L904.50,240.86 L906.00,241.81 L907.50,242.76 L909.00,243.73 L910.50,244.70 L912.00,245.68 L913.50,246.67 L915.00,247.66 L916.50,248.65 L918.00,249.65 L919.50,250.64 L921.00,251.64 L922.50,252.64 L924.00,253.64 L925.50,254.63 L927.00,255.63 L928.50,256.62 L930.00,257.60 L931.50,258.58 L933.00,259.56 L934.50,260.52 L936.00,261.48 L937.50,262.44 L939.00,263.38 L940.50,264.31 L942.00,265.23 L943.50,266.14 L945.00,267.03 L946.50,267.92 L948.00,268.79 L949.50,269.65 L951.00,270.51 L952.50,271.36 L954.00,272.21 L955.50,273.07 L957.00,273.93 L958.50,274.79 L960.00,275.67 L961.50,276.56 L963.00,277.46 L964.50,278.38 L966.00,279.32 L967.50,280.29 L969.00,281.27 L970.50,282.29 L972.00,283.34 L973.50,284.41 L975.00,285.51 L976.50,286.63 L978.00,287.75 L979.50,288.87 L981.00,289.99 L982.50,291.09 L984.00,292.18 L985.50,293.23 L987.00,294.26 L988.50,295.24 L990.00,296.17 L991.50,297.05 L993.00,297.89 L994.50,298.68 L996.00,299.42 L997.50,300.13 L999.00,300.80 L1000.50,301.43 L1002.00,302.03 L1003.50,302.60 L1005.00,303.14 L1006.50,303.66 L1008.00,304.15 L1009.50,304.62 L1011.00,305.08 L1012.50,305.52 L1014.00,305.94 L1015.50,306.36 L1017.00,306.77 L1018.50,307.17 L1020.00,307.57 L1021.50,307.97 L1023.00,308.37 L1024.50,308.77 L1026.00,309.18 L1027.50,309.60 L1029.00,310.03 L1030.20,310.39 L1460.00,310.20" fill="none" stroke="rgb(137,189,27)" stroke-width="2"/>
<path d="M85.50,307.80 L87.00,307.27 L88.50,306.74 L90.00,306.21 L91.50,305.69 L93.00,305.17 L94.50,304.66 L96.00,304.14 L97.50,303.63 L99.00,303.11 L100.50,302.60 L102.00,302.08 L103.50,301.56 L105.00,301.04 L106.50,300.51 L108.00,299.98 L109.50,299.45 L111.00,298.91 L112.50,298.36 L114.00,297.81 L115.50,297.25 L117.00,296.68 L118.50,296.10 L120.00,295.51 L121.50,294.91 L123.00,294.30 L124.50,293.68 L126.00,293.05 L127.50,292.40 L129.00,291.74 L130.50,291.06 L132.00,290.37 L133.50,289.66 L135.00,288.94 L136.50,288.20 L138.00,287.44 L139.50,286.66 L141.00,285.86 L142.50,285.04 L144.00,284.20 L145.50,283.34 L147.00,282.46 L148.50,281.56 L150.00,280.63 L151.50,279.68 L153.00,278.71 L154.50,277.72 L156.00,276.71 L157.50,275.69 L159.00,274.64 L160.50,273.59 L162.00,272.51 L163.50,271.43 L165.00,270.33 L166.50,269.22 L168.00,268.10 L169.50,266.97 L171.00,265.83 L172.50,264.68 L174.00,263.52 L175.50,262.36 L177.00,261.20 L178.50,260.03 L180.00,258.86 L181.50,257.68 L183.00,256.49 L184.50,255.30 L186.00,254.09 L187.50,252.86 L189.00,251.61 L190.50,250.33 L192.00,249.03 L193.50,247.69 L195.00,246.31 L196.50,244.90 L198.00,243.44 L199.50,241.93 L201.00,240.38 L202.50,238.76 L204.00,237.10 L205.50,235.36 L207.00,233.57 L208.50,231.70 L210.00,229.78 L211.50,227.80 L213.00,225.78 L214.50,223.73 L216.00,221.65 L217.50,219.56 L219.00,217.46 L220.50,215.36 L222.00,213.28 L223.50,211.21 L225.00,209.17 L226.50,207.18 L228.00,205.22 L229.50,203.33 L231.00,201.50 L232.50,199.74 L234.00,198.07 L235.50,196.48 L237.00,194.98 L238.50,193.55 L240.00,192.18 L241.50,190.87 L243.00,189.59 L244.50,188.34 L246.00,187.11 L247.50,185.88 L249.00,184.66 L250.50,183.42 L252.00,182.18 L253.50,180.92 L255.00,179.65 L256.50,178.35 L258.00,177.03 L259.50,175.69 L261.00,174.32 L262.50,172.91 L264.00,171.47 L265.50,169.99 L267.00,168.47 L268.50,166.91 L270.00,165.30 L271.50,163.65 L273.00,161.98 L274.50,160.31 L276.00,158.64 L277.50,157.00 L279.00,155.39 L280.50,153.82 L282.00,152.29 L283.50,150.80 L285.00,149.35 L286.50,147.94 L288.00,146.56 L289.50,145.22 L291.00,143.92 L292.50,142.66 L294.00,141.43 L295.50,140.24 L297.00,139.09 L298.50,137.98 L300.00,136.90 L301.50,135.86 L303.00,134.85 L304.50,133.88 L306.00,132.95 L307.50,132.05 L309.00,131.18 L310.50,130.36 L312.00,129.56 L313.50,128.81 L315.00,128.08 L316.50,127.39 L318.00,126.74 L319.50,126.12 L321.00,125.53 L322.50,124.98 L324.00,124.46 L325.50,123.98 L327.00,123.53 L328.50,123.12 L330.00,122.74 L331.50,122.41 L333.00,122.10 L334.50,121.84 L336.00,121.62 L337.50,121.43 L339.00,121.28 L340.50,121.18 L342.00,121.12 L343.50,121.09 L345.00,121.11 L346.50,121.18 L348.00,121.28 L349.50,121.43 L351.00,121.63 L352.50,121.87 L354.00,122.15 L355.50,122.49 L357.00,122.86 L358.50,123.29 L360.00,123.77 L361.50,124.29 L363.00,124.86 L364.50,125.48 L366.00,126.16 L367.50,126.88 L369.00,127.66 L370.50,128.48 L372.00,129.37 L373.50,130.30 L375.00,131.28 L376.50,132.31 L378.00,133.37 L379.50,134.47 L381.00,135.59 L382.50,136.74 L384.00,137.91 L385.50,139.09 L387.00,140.28 L388.50,141.48 L390.00,142.67 L391.50,143.86 L393.00,145.03 L394.50,146.19 L396.00,147.32 L397.50,148.43 L399.00,149.51 L400.50,150.56 L402.00,151.58 L403.50,152.58 L405.00,153.56 L406.50,154.52 L408.00,155.46 L409.50,156.38 L411.00,157.29 L412.50,158.19 L414.00,159.08 L415.50,159.96 L417.00,160.83 L418.50,161.70 L420.00,162.56 L421.50,163.41 L423.00,164.26 L424.50,165.10 L426.00,165.93 L427.50,166.75 L429.00,167.56 L430.50,168.37 L432.00,169.17 L433.50,169.96 L435.00,170.74 L436.50,171.51 L438.00,172.28 L439.50,173.03 L441.00,173.78 L442.50,174.51 L444.00,175.24 L445.50,175.96 L447.00,176.66 L448.50,177.36 L450.00,178.05 L451.50,178.72 L453.00,179.39 L454.50,180.05 L456.00,180.69 L457.50,181.33 L459.00,181.95 L460.50,182.56 L462.00,183.17 L463.50,183.76 L465.00,184.34 L466.50,184.91 L468.00,185.46 L469.50,186.02 L471.00,186.56 L472.50,187.09 L474.00,187.62 L475.50,188.14 L477.00,188.66 L478.50,189.17 L480.00,189.68 L481.50,190.18 L483.00,190.69 L484.50,191.19 L486.00,191.68 L487.50,192.18 L489.00,192.68 L490.50,193.17 L492.00,193.67 L493.50,194.17 L495.00,194.67 L496.50,195.17 L498.00,195.67 L499.50,196.17 L501.00,196.67 L502.50,197.17 L504.00,197.67 L505.50,198.16 L507.00,198.66 L508.50,199.15 L510.00,199.64 L511.50,200.13 L513.00,200.62 L514.50,201.10 L516.00,201.58 L517.50,202.06 L519.00,202.53 L520.50,203.01 L522.00,203.47 L523.50,203.94 L525.00,204.40 L526.50,204.85 L528.00,205.30 L529.50,205.75 L531.00,206.19 L532.50,206.63 L534.00,207.06 L535.50,207.49 L537.00,207.92 L538.50,208.33 L540.00,208.75 L541.50,209.16 L543.00,209.56 L544.50,209.96 L546.00,210.35 L547.50,210.74 L549.00,211.12 L550.50,211.50 L552.00,211.87 L553.50,212.24 L555.00,212.60 L556.50,212.95 L558.00,213.30 L559.50,213.64 L561.00,213.97 L562.50,214.30 L564.00,214.63 L565.50,214.94 L567.00,215.25 L568.50,215.55 L570.00,215.85 L571.50,216.14 L573.00,216.42 L574.50,216.69 L576.00,216.96 L577.50,217.22 L579.00,217.47 L580.50,217.72 L582.00,217.95 L583.50,218.18 L585.00,218.41 L586.50,218.62 L588.00,218.83 L589.50,219.03 L591.00,219.22 L592.50,219.40 L594.00,219.57 L595.50,219.74 L597.00,219.89 L598.50,220.04 L600.00,220.18 L601.50,220.31 L603.00,220.44 L604.50,220.55 L606.00,220.65 L607.50,220.75 L609.00,220.83 L610.50,220.91 L612.00,220.98 L613.50,221.03 L615.00,221.08 L616.50,221.12 L618.00,221.15 L619.50,221.17 L621.00,221.18 L622.50,221.18 L624.00,221.17 L625.50,221.16 L627.00,221.13 L628.50,221.10 L630.00,221.07 L631.50,221.03 L633.00,220.98 L634.50,220.93 L636.00,220.87 L637.50,220.81 L639.00,220.75 L640.50,220.68 L642.00,220.61 L643.50,220.54 L645.00,220.46 L646.50,220.38 L648.00,220.30 L649.50,220.23 L651.00,220.15 L652.50,220.07 L654.00,219.99 L655.50,219.91 L657.00,219.83 L658.50,219.76 L660.00,219.68 L661.50,219.61 L663.00,219.55 L664.50,219.48 L666.00,219.42 L667.50,219.37 L669.00,219.32 L670.50,219.27 L672.00,219.23 L673.50,219.19 L675.00,219.16 L676.50,219.13 L678.00,219.10 L679.50,219.07 L681.00,219.05 L682.50,219.03 L684.00,219.02 L685.50,219.00 L687.00,218.99 L688.50,218.98 L690.00,218.97 L691.50,218.96 L693.00,218.96 L694.50,218.95 L696.00,218.94 L697.50,218.94 L699.00,218.94 L700.50,218.93 L702.00,218.93 L703.50,218.92 L705.00,218.92 L706.50,218.92 L708.00,218.91 L709.50,218.91 L711.00,218.90 L712.50,218.90 L714.00,218.89 L715.50,218.89 L717.00,218.89 L718.50,218.88 L720.00,218.88 L721.50,218.87 L723.00,218.87 L724.50,218.86 L726.00,218.86 L727.50,218.85 L729.00,218.85 L730.50,218.84 L732.00,218.84 L733.50,218.84 L735.00,218.83 L736.50,218.83 L738.00,218.82 L739.50,218.82 L741.00,218.81 L742.50,218.81 L744.00,218.81 L745.50,218.80 L747.00,218.80 L748.50,218.79 L750.00,218.79 L751.50,218.79 L753.00,218.78 L754.50,218.78 L756.00,218.77 L757.50,218.77 L759.00,218.77 L760.50,218.77 L762.00,218.76 L763.50,218.76 L765.00,218.76 L766.50,218.75 L768.00,218.75 L769.50,218.75 L771.00,218.75 L772.50,218.74 L774.00,218.74 L775.50,218.74 L777.00,218.74 L778.50,218.74 L780.00,218.74 L781.50,218.74 L783.00,218.74 L784.50,218.74 L786.00,218.74 L787.50,218.74 L789.00,218.74 L790.50,218.74 L792.00,218.74 L793.50,218.74 L795.00,218.74 L796.50,218.74 L798.00,218.74 L799.50,218.74 L801.00,218.75 L802.50,218.75 L804.00,218.75 L805.50,218.75 L807.00,218.76 L808.50,218.76 L810.00,218.77 L811.50,218.77 L813.00,218.77 L814.50,218.78 L816.00,218.78 L817.50,218.79 L819.00,218.80 L820.50,218.80 L822.00,218.81 L823.50,218.82 L825.00,218.82 L826.50,218.83 L828.00,218.84 L829.50,218.85 L831.00,218.86 L832.50,218.86 L834.00,218.87 L835.50,218.88 L837.00,218.90 L838.50,218.91 L840.00,218.92 L841.50,218.93 L843.00,218.94 L844.50,218.95 L846.00,218.97 L847.50,218.98 L849.00,218.99 L850.50,219.01 L852.00,219.02 L853.50,219.04 L855.00,219.06 L856.50,219.07 L858.00,219.09 L859.50,219.11 L861.00,219.12 L862.50,219.14 L864.00,219.16 L865.50,219.18 L867.00,219.20 L868.50,219.22 L870.00,219.24 L871.50,219.26 L873.00,219.29 L874.50,219.31 L876.00,219.33 L877.50,219.36 L879.00,219.38 L880.50,219.40 L882.00,219.43 L883.50,219.45 L885.00,219.47 L886.50,219.50 L888.00,219.52 L889.50,219.54 L891.00,219.56 L892.50,219.59 L894.00,219.61 L895.50,219.63 L897.00,219.65 L898.50,219.67 L900.00,219.68 L901.50,219.70 L903.00,219.72 L904.50,219.73 L906.00,219.75 L907.50,219.76 L909.00,219.77 L910.50,219.78 L912.00,219.79 L913.50,219.79 L915.00,219.80 L916.50,219.80 L918.00,219.80 L919.50,219.80 L921.00,219.80 L922.50,219.80 L924.00,219.79 L925.50,219.78 L927.00,219.77 L928.50,219.76 L930.00,219.74 L931.50,219.72 L933.00,219.70 L934.50,219.68 L936.00,219.65 L937.50,219.62 L939.00,219.59 L940.50,219.55 L942.00,219.51 L943.50,219.46 L945.00,219.41 L946.50,219.35 L948.00,219.29 L949.50,219.23 L951.00,219.15 L952.50,219.07 L954.00,218.99 L955.50,218.89 L957.00,218.80 L958.50,218.69 L960.00,218.57 L961.50,218.45 L963.00,218.32 L964.50,218.18 L966.00,218.03 L967.50,217.88 L969.00,217.71 L970.50,217.54 L972.00,217.35 L973.50,217.15 L975.00,216.95 L976.50,216.73 L978.00,216.50 L979.50,216.26 L981.00,216.01 L982.50,215.75 L984.00,215.47 L985.50,215.18 L987.00,214.88 L988.50,214.57 L990.00,214.24 L991.50,213.90 L993.00,213.55 L994.50,213.18 L996.00,212.79 L997.50,212.39 L999.00,211.98 L1000.50,211.55 L1002.00,211.11 L1003.50,210.65 L1005.00,210.17 L1006.50,209.68 L1008.00,209.17 L1009.50,208.64 L1011.00,208.10 L1012.50,207.53 L1014.00,206.95 L1015.50,206.35 L1017.00,205.73 L1018.50,205.09 L1020.00,204.42 L1021.50,203.73 L1023.00,203.02 L1024.50,202.28 L1026.00,201.52 L1027.50,200.73 L1029.00,199.92 L1030.50,199.07 L1032.00,198.20 L1033.50,197.30 L1035.00,196.37 L1036.50,195.41 L1038.00,194.42 L1039.50,193.39 L1041.00,192.33 L1042.50,191.23 L1044.00,190.11 L1045.50,188.94 L1047.00,187.74 L1048.50,186.50 L1050.00,185.22 L1051.50,183.91 L1053.00,182.55 L1054.50,181.15 L1056.00,179.71 L1057.50,178.23 L1059.00,176.71 L1060.50,175.14 L1062.00,173.53 L1063.50,171.87 L1065.00,170.17 L1066.50,168.41 L1068.00,166.61 L1069.50,164.77 L1071.00,162.87 L1072.50,160.94 L1074.00,158.98 L1075.50,157.01 L1077.00,155.04 L1078.50,153.08 L1080.00,151.15 L1081.50,149.25 L1083.00,147.41 L1084.50,145.63 L1086.00,143.93 L1087.50,142.32 L1089.00,140.81 L1090.50,139.40 L1092.00,138.10 L1093.50,136.89 L1095.00,135.75 L1096.50,134.68 L1098.00,133.66 L1099.50,132.69 L1101.00,131.75 L1102.50,130.85 L1104.00,129.99 L1105.50,129.14 L1107.00,128.32 L1108.50,127.52 L1110.00,126.73 L1111.50,125.95 L1113.00,125.17 L1114.50,124.39 L1116.00,123.61 L1116.40,123.40 L1117.90,123.23 L1119.40,123.08 L1120.90,122.93 L1122.40,122.80 L1123.90,122.67 L1125.40,122.56 L1126.90,122.45 L1128.40,122.36 L1129.90,122.27 L1131.40,122.20 L1132.90,122.13 L1134.40,122.08 L1135.90,122.03 L1137.40,122.00 L1138.90,121.97 L1140.40,121.95 L1141.90,121.94 L1143.40,121.95 L1144.90,121.96 L1146.40,121.97 L1147.90,122.00 L1149.40,122.04 L1150.90,122.08 L1152.40,122.13 L1153.90,122.19 L1155.40,122.26 L1156.90,122.34 L1158.40,122.43 L1159.90,122.52 L1161.40,122.62 L1162.90,122.73 L1164.40,122.84 L1165.90,122.97 L1167.40,123.10 L1168.90,123.23 L1170.40,123.38 L1171.90,123.53 L1173.40,123.69 L1174.90,123.85 L1176.40,124.03 L1177.90,124.21 L1179.40,124.39 L1180.90,124.58 L1182.40,124.78 L1183.90,124.98 L1185.40,125.19 L1186.90,125.41 L1188.40,125.63 L1189.90,125.86 L1191.40,126.09 L1192.90,126.33 L1194.40,126.57 L1195.90,126.82 L1197.40,127.07 L1198.90,127.33 L1200.40,127.60 L1201.90,127.86 L1202.10,127.90 L1203.60,128.07 L1205.10,128.33 L1206.60,128.67 L1208.10,129.10 L1209.60,129.60 L1211.10,130.18 L1212.60,130.83 L1214.10,131.56 L1215.60,132.35 L1217.10,133.20 L1218.60,134.12 L1220.10,135.09 L1221.60,136.12 L1223.10,137.20 L1224.60,138.33 L1226.10,139.51 L1227.60,140.73 L1229.10,141.99 L1230.60,143.28 L1232.10,144.61 L1233.60,145.97 L1235.10,147.36 L1236.60,148.78 L1238.10,150.21 L1239.60,151.66 L1241.10,153.13 L1242.60,154.60 L1244.10,156.08 L1245.60,157.55 L1247.10,159.02 L1248.60,160.48 L1250.10,161.91 L1251.60,163.33 L1253.10,164.72 L1254.60,166.07 L1256.10,167.39 L1257.60,168.66 L1259.10,169.89 L1260.60,171.07 L1262.10,172.19 L1263.60,173.25 L1265.10,174.27 L1266.60,175.24 L1268.10,176.16 L1269.60,177.04 L1271.10,177.88 L1272.60,178.68 L1274.10,179.44 L1275.60,180.17 L1277.10,180.86 L1278.60,181.53 L1280.10,182.17 L1281.60,182.78 L1283.10,183.36 L1284.60,183.93 L1286.10,184.48 L1287.60,185.01 L1289.10,185.53 L1290.60,186.03 L1292.10,186.52 L1293.60,187.00 L1295.10,187.46 L1296.60,187.90 L1298.10,188.31 L1299.60,188.68 L1301.10,189.01 L1302.60,189.29 L1304.10,189.53 L1305.60,189.71 L1307.10,189.82 L1308.60,189.88 L1310.10,189.88 L1311.60,189.82 L1313.10,189.72 L1314.60,189.57 L1316.10,189.38 L1317.60,189.15 L1319.10,188.90 L1320.60,188.61 L1322.10,188.30 L1323.60,187.98 L1325.10,187.64 L1326.60,187.29 L1328.10,186.93 L1329.60,186.57 L1331.10,186.22 L1332.60,185.87 L1334.10,185.53 L1335.60,185.21 L1337.10,184.90 L1338.60,184.62 L1340.10,184.37 L1341.60,184.14 L1343.10,183.93 L1344.60,183.74 L1346.10,183.58 L1347.60,183.44 L1349.10,183.32 L1350.60,183.22 L1352.10,183.14 L1353.60,183.09 L1355.10,183.05 L1356.60,183.03 L1358.10,183.04 L1359.60,183.06 L1361.10,183.10 L1362.60,183.16 L1364.10,183.23 L1365.60,183.33 L1367.10,183.44 L1368.60,183.56 L1370.10,183.71 L1371.60,183.86 L1373.10,184.04 L1374.60,184.23 L1376.10,184.43 L1377.60,184.65 L1379.10,184.88 L1380.60,185.13 L1382.10,185.39 L1383.60,185.66 L1385.10,185.94 L1386.60,186.24 L1388.10,186.55 L1389.60,186.87 L1391.10,187.20 L1392.60,187.54 L1394.10,187.89 L1395.60,188.25 L1397.10,188.62 L1398.60,188.99 L1400.10,189.38 L1401.60,189.77 L1403.10,190.18 L1404.60,190.59 L1406.10,191.00 L1407.60,191.43 L1409.10,191.85 L1410.60,192.29 L1412.10,192.73 L1413.60,193.17 L1415.10,193.62 L1416.60,194.08 L1418.10,194.54 L1419.60,195.00 L1421.10,195.46 L1422.60,195.93 L1424.10,196.40 L1425.60,196.87 L1427.10,197.34 L1428.60,197.81 L1430.10,198.29 L1431.60,198.76 L1433.10,199.24 L1434.60,199.71 L1436.10,200.18 L1437.60,200.66 L1439.10,201.13 L1440.60,201.60 L1442.10,202.06 L1443.60,202.53 L1445.10,202.99 L1446.60,203.44 L1448.10,203.89 L1449.60,204.34 L1451.10,204.79 L1452.60,205.22 L1454.10,205.66 L1455.60,206.08 L1457.10,206.51 L1458.60,206.92 L1460.00,207.30" fill="none" stroke="rgb(0,136,212)" stroke-width="1.3"/>
<path d="M17.5,17.3H33 M45.4,29.5h-28 M11.5,2v56H51V14.8L38.4,2H11.5z M38.4,2.2v12.7H51 M45.4,41.7h-28" transform="translate(1387.63,38.16) scale(0.2679)" fill="none" stroke="#666" stroke-width="3.733"/><path d="M4.1,28.9h7.1l9.3-22l7.4,38l9.7-19.7l3,12.8h14.9M4.1,58h51.4" transform="translate(1412.90,36.73) scale(0.2918)" fill="none" stroke="#666" stroke-width="3.427"/><path d="M6.7,22.9h10V48h-10V22.9zM24.9,13h10v35h-10V13zM43.2,2h10v46h-10V2zM3.1,58h53.7" transform="translate(1441.28,38.16) scale(0.2679)" fill="none" stroke="#666" stroke-width="3.733"/><path d="M4.7,22.9L29.3,45.5L54.7,23.4M4.6,43.6L4.6,58L53.8,58L53.8,43.6M29.2,45.1L29.2,0" transform="translate(1468.23,38.70) scale(0.2586)" fill="none" stroke="#666" stroke-width="3.867"/>
<text x="6" y="390.2" font-size="16.4" letter-spacing="0.25" font-weight="bold" fill="#333">车站客流TOP10(人次)</text>
<rect x="618.3" y="394" width="25" height="14" rx="4" fill="#c23531"/>
<text x="648.3" y="404" font-size="12" fill="#333">进站客流</text>
<rect x="706.3" y="394" width="25" height="14" rx="4" fill="#2f4554"/>
<text x="736.3" y="404" font-size="12" fill="#333">出站客流</text>
<rect x="794.3" y="394" width="25" height="14" rx="4" fill="#61a0a8"/>
<text x="824.3" y="404" font-size="12" fill="#333">换乘客流</text>
<path d="M17.5,17.3H33 M45.4,29.5h-28 M11.5,2v56H51V14.8L38.4,2H11.5z M38.4,2.2v12.7H51 M45.4,41.7h-28" transform="translate(1387.63,380.16) scale(0.2679)" fill="none" stroke="#666" stroke-width="3.733"/><path d="M4.1,28.9h7.1l9.3-22l7.4,38l9.7-19.7l3,12.8h14.9M4.1,58h51.4" transform="translate(1412.90,378.73) scale(0.2918)" fill="none" stroke="#666" stroke-width="3.427"/><path d="M6.7,22.9h10V48h-10V22.9zM24.9,13h10v35h-10V13zM43.2,2h10v46h-10V2zM3.1,58h53.7" transform="translate(1441.28,380.16) scale(0.2679)" fill="none" stroke="#666" stroke-width="3.733"/><path d="M4.7,22.9L29.3,45.5L54.7,23.4M4.6,43.6L4.6,58L53.8,58L53.8,43.6M29.2,45.1L29.2,0" transform="translate(1468.23,380.70) scale(0.2586)" fill="none" stroke="#666" stroke-width="3.867"/>
<line x1="70.5" y1="629.5" x2="1460" y2="629.5" stroke="#ccc"/>
<line x1="70.5" y1="606.5" x2="1460" y2="606.5" stroke="#ccc"/>
<line x1="70.5" y1="583.5" x2="1460" y2="583.5" stroke="#ccc"/>
<line x1="70.5" y1="559.5" x2="1460" y2="559.5" stroke="#ccc"/>
<line x1="70.5" y1="536.5" x2="1460" y2="536.5" stroke="#ccc"/>
<line x1="70.5" y1="513.5" x2="1460" y2="513.5" stroke="#ccc"/>
<line x1="70.5" y1="489.5" x2="1460" y2="489.5" stroke="#ccc"/>
<line x1="70.5" y1="466.5" x2="1460" y2="466.5" stroke="#ccc"/>
<line x1="65" y1="652.5" x2="70.5" y2="652.5" stroke="#333"/>
<text x="62" y="656.8" font-size="12" fill="#333" text-anchor="end">0</text>
<line x1="65" y1="629.5" x2="70.5" y2="629.5" stroke="#333"/>
<text x="62" y="633.5" font-size="12" fill="#333" text-anchor="end">1,000</text>
<line x1="65" y1="606.5" x2="70.5" y2="606.5" stroke="#333"/>
<text x="62" y="610.3" font-size="12" fill="#333" text-anchor="end">2,000</text>
<line x1="65" y1="583.5" x2="70.5" y2="583.5" stroke="#333"/>
<text x="62" y="587.0" font-size="12" fill="#333" text-anchor="end">3,000</text>
<line x1="65" y1="559.5" x2="70.5" y2="559.5" stroke="#333"/>
<text x="62" y="563.8" font-size="12" fill="#333" text-anchor="end">4,000</text>
<line x1="65" y1="536.5" x2="70.5" y2="536.5" stroke="#333"/>
<text x="62" y="540.5" font-size="12" fill="#333" text-anchor="end">5,000</text>
<line x1="65" y1="513.5" x2="70.5" y2="513.5" stroke="#333"/>
<text x="62" y="517.3" font-size="12" fill="#333" text-anchor="end">6,000</text>
<line x1="65" y1="489.5" x2="70.5" y2="489.5" stroke="#333"/>
<text x="62" y="494.1" font-size="12" fill="#333" text-anchor="end">7,000</text>
<line x1="65" y1="466.5" x2="70.5" y2="466.5" stroke="#333"/>
<text x="62" y="470.8" font-size="12" fill="#333" text-anchor="end">8,000</text>
<rect x="84.39" y="609.65" width="30.88" height="42.85" fill="#c23531"/>
<rect x="124.54" y="479.45" width="30.88" height="173.05" fill="#2f4554"/>
<text x="140.0" y="669.5" font-size="12" fill="#333" text-anchor="middle">国际商贸城</text>
<rect x="223.34" y="553.48" width="30.88" height="99.02" fill="#c23531"/>
<rect x="263.49" y="558.24" width="30.88" height="94.26" fill="#2f4554"/>
<text x="278.9" y="669.5" font-size="12" fill="#333" text-anchor="middle">金华</text>
<rect x="362.29" y="575.15" width="30.88" height="77.35" fill="#c23531"/>
<rect x="402.44" y="587.05" width="30.88" height="65.45" fill="#2f4554"/>
<text x="417.9" y="669.5" font-size="12" fill="#333" text-anchor="middle">八一南街</text>
<rect x="501.24" y="578.05" width="30.88" height="74.45" fill="#c23531"/>
<rect x="541.39" y="589.05" width="30.88" height="63.45" fill="#2f4554"/>
<text x="556.8" y="669.5" font-size="12" fill="#333" text-anchor="middle">明清宫</text>
<rect x="640.19" y="596.05" width="30.88" height="56.45" fill="#c23531"/>
<rect x="680.34" y="591.26" width="30.88" height="61.24" fill="#2f4554"/>
<text x="695.8" y="669.5" font-size="12" fill="#333" text-anchor="middle">绣湖</text>
<rect x="779.14" y="596.05" width="30.88" height="56.45" fill="#c23531"/>
<rect x="819.29" y="601.35" width="30.88" height="51.15" fill="#2f4554"/>
<text x="834.7" y="669.5" font-size="12" fill="#333" text-anchor="middle">金华南</text>
<rect x="918.09" y="605.65" width="30.88" height="46.85" fill="#c23531"/>
<rect x="958.24" y="595.56" width="30.88" height="56.94" fill="#2f4554"/>
<text x="973.7" y="669.5" font-size="12" fill="#333" text-anchor="middle">万达广场</text>
<rect x="1057.04" y="598.74" width="30.88" height="53.76" fill="#c23531"/>
<rect x="1097.19" y="602.74" width="30.88" height="49.76" fill="#2f4554"/>
<text x="1112.6" y="669.5" font-size="12" fill="#333" text-anchor="middle">稠江</text>
<rect x="1195.99" y="589.05" width="30.88" height="63.45" fill="#c23531"/>
<rect x="1236.14" y="617.79" width="30.88" height="34.71" fill="#2f4554"/>
<text x="1251.6" y="669.5" font-size="12" fill="#333" text-anchor="middle">人民路</text>
<rect x="1334.94" y="616.14" width="30.88" height="36.36" fill="#c23531"/>
<rect x="1375.09" y="597.35" width="30.88" height="55.15" fill="#2f4554"/>
<text x="1390.5" y="669.5" font-size="12" fill="#333" text-anchor="middle">浙医四院</text>
<line x1="70.5" y1="466" x2="70.5" y2="652.5" stroke="#333"/>
<line x1="70" y1="652.5" x2="1460.5" y2="652.5" stroke="#333"/>
<line x1="70.5" y1="652" x2="70.5" y2="657.5" stroke="#333"/>
<line x1="209.5" y1="652" x2="209.5" y2="657.5" stroke="#333"/>
<line x1="348.5" y1="652" x2="348.5" y2="657.5" stroke="#333"/>
<line x1="487.5" y1="652" x2="487.5" y2="657.5" stroke="#333"/>
<line x1="626.5" y1="652" x2="626.5" y2="657.5" stroke="#333"/>
<line x1="765.5" y1="652" x2="765.5" y2="657.5" stroke="#333"/>
<line x1="904.5" y1="652" x2="904.5" y2="657.5" stroke="#333"/>
<line x1="1043.5" y1="652" x2="1043.5" y2="657.5" stroke="#333"/>
<line x1="1182.5" y1="652" x2="1182.5" y2="657.5" stroke="#333"/>
<line x1="1321.5" y1="652" x2="1321.5" y2="657.5" stroke="#333"/>
<line x1="1460.5" y1="652" x2="1460.5" y2="657.5" stroke="#333"/>
<path d="M126.42,457.31 A15.00,15.00 0 1,1 153.53,457.31 C149.67,465.44 139.97,468.95 139.97,479.45 C139.97,468.95 130.28,465.44 126.42,457.31 Z" fill="#2f4554"/><text x="139.97" y="456.88" font-size="12.6" font-weight="bold" fill="#fff" text-anchor="middle">7428</text>
<path d="M166.56,630.36 A15.00,15.00 0 1,1 193.67,630.36 C189.81,638.49 180.12,642.00 180.12,652.50 C180.12,642.00 170.42,638.49 166.56,630.36 Z" fill="#61a0a8"/><text x="180.12" y="629.93" font-size="12.6" font-weight="bold" fill="#fff" text-anchor="middle">0</text>
<path d="M225.23,531.33 A15.00,15.00 0 1,1 252.34,531.33 C248.48,539.47 238.78,542.98 238.78,553.48 C238.78,542.98 229.09,539.47 225.23,531.33 Z" fill="#c23531"/><text x="238.78" y="530.91" font-size="12.6" font-weight="bold" fill="#fff" text-anchor="middle">4244</text>
<path d="M1238.02,595.64 A15.00,15.00 0 1,1 1265.13,595.64 C1261.27,603.78 1251.57,607.29 1251.57,617.79 C1251.57,607.29 1241.88,603.78 1238.02,595.64 Z" fill="#2f4554"/><text x="1251.57" y="595.22" font-size="12.6" font-weight="bold" fill="#fff" text-anchor="middle">1478</text>
<path d="M1336.83,593.99 A15.00,15.00 0 1,1 1363.94,593.99 C1360.08,602.12 1350.38,605.64 1350.38,616.14 C1350.38,605.64 1340.69,602.12 1336.83,593.99 Z" fill="#c23531"/><text x="1350.38" y="593.56" font-size="12.6" font-weight="bold" fill="#fff" text-anchor="middle">1549</text>
</svg></body></html>
